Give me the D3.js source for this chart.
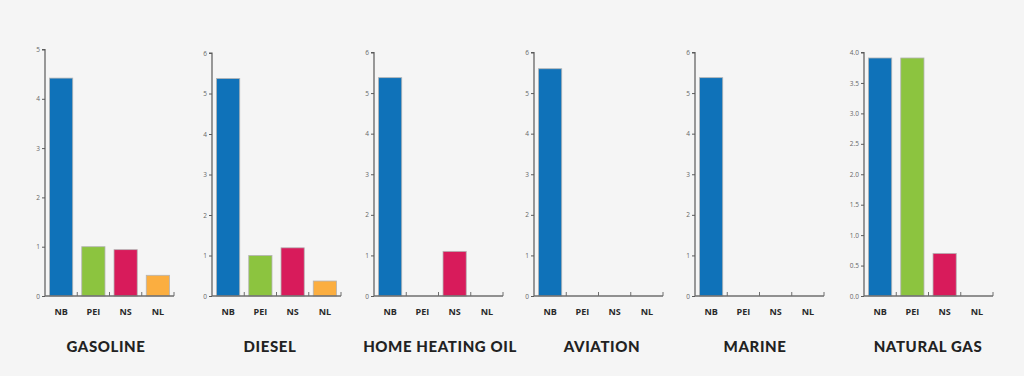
<!DOCTYPE html>
<html>
<head>
<meta charset="utf-8">
<script src="https://cdn.jsdelivr.net/npm/d3@7"></script>
<style>
  html, body { margin: 0; padding: 0; background: #f5f5f5; }
  svg { display: block; }
</style>
</head>
<body>
<svg id="chart" width="1024" height="376"></svg>
<script>
// ---- data ----
const categories = ["NB", "PEI", "NS", "NL"];
const panelTitles = ["GASOLINE", "DIESEL", "HOME HEATING OIL", "AVIATION", "MARINE", "NATURAL GAS"];
const gasoline    = [4.42, 1.00, 0.94, 0.42];
const diesel      = [5.37, 1.00, 1.19, 0.37];
const homeHeating = [5.38, 0, 1.10, 0];
const aviation    = [5.60, 0, 0, 0];
const marine      = [5.38, 0, 0, 0];
const naturalGas  = [3.91, 3.91, 0.70, 0];
const yMaxima     = [5, 6, 6, 6, 6, 4];
const tickValuesInt = [0, 1, 2, 3, 4, 5, 6];
const tickValuesGas = [0, 0.5, 1.0, 1.5, 2.0, 2.5, 3.0, 3.5, 4.0];

const seriesList = [gasoline, diesel, homeHeating, aviation, marine, naturalGas];
const colors = ["#0f72b9", "#8cc43f", "#d81b5b", "#fbae40"];

// ---- layout ----
const axisX = [45, 212, 374, 534, 695, 864];
const titleCenters = [106, 270, 440, 602, 755, 928];
const axisTops = [49.5, 53, 52.5, 52.5, 52.5, 52.5];
const axisLen = 129;
const yBottom = 296;

const svg = d3.select("#chart");
svg.append("rect").attr("width", 1024).attr("height", 376).attr("fill", "#f5f5f5");

seriesList.forEach((vals, p) => {
  const x0 = axisX[p];
  const yTop = axisTops[p];
  const g = svg.append("g");
  const x = d3.scaleBand().domain(categories).range([x0, x0 + axisLen])
    .paddingInner(0.28).paddingOuter(0.14);
  const y = d3.scaleLinear().domain([0, yMaxima[p]]).range([yBottom, yTop]);

  // bars
  const data = categories.map((c, i) => ({ c, v: vals[i], i })).filter(d => d.v > 0);
  g.selectAll("rect.bar").data(data).enter().append("rect")
    .attr("class", "bar")
    .attr("x", d => x(d.c))
    .attr("y", d => y(d.v))
    .attr("width", x.bandwidth())
    .attr("height", d => yBottom - y(d.v))
    .attr("fill", d => colors[d.i])
    .attr("stroke", "#b4b4b4")
    .attr("stroke-width", 0.8);

  // y axis
  const tv = p === 5 ? tickValuesGas : tickValuesInt.filter(t => t <= yMaxima[p]);
  const yAxis = d3.axisLeft(y).tickValues(tv).tickSize(3)
    .tickFormat(p === 5 ? d3.format(".1f") : d3.format("d"));
  const ya = g.append("g").attr("transform", `translate(${x0},0)`).call(yAxis);
  ya.select(".domain").attr("d", `M-3,${yTop}H0V${yBottom}`).attr("stroke", "#5a5a5a").attr("stroke-width", 1.2);
  ya.selectAll(".tick line").attr("stroke", "#5a5a5a");
  ya.selectAll(".tick text").attr("x", -5).attr("fill", "#666")
    .style("font-family", "'Open Sans', sans-serif").style("font-size", "6.5px");

  // x axis baseline with upward boundary ticks
  g.append("line").attr("x1", x0).attr("x2", x0 + axisLen)
    .attr("y1", yBottom).attr("y2", yBottom)
    .attr("stroke", "#6e6e6e").attr("stroke-width", 1.4);
  const step = x.step();
  categories.forEach((c) => {
    const bx = x(c) + x.bandwidth() + (step - x.bandwidth()) / 2;
    g.append("line").attr("x1", bx).attr("x2", bx)
      .attr("y1", yBottom).attr("y2", yBottom - 4)
      .attr("stroke", "#6e6e6e").attr("stroke-width", 1);
  });

  // category labels
  g.selectAll("text.cat").data(categories).enter().append("text")
    .attr("class", "cat")
    .attr("x", d => x(d) + x.bandwidth() / 2)
    .attr("y", 315)
    .attr("text-anchor", "middle")
    .attr("fill", "#2a2a2a")
    .style("font-family", "'Open Sans', sans-serif")
    .style("font-weight", "700")
    .style("font-size", "9px")
    .text(d => d);

  // title
  g.append("text")
    .attr("x", titleCenters[p])
    .attr("y", 352)
    .attr("text-anchor", "middle")
    .attr("fill", "#222")
    .style("font-family", "Lato, sans-serif")
    .style("font-weight", "900")
    .style("font-size", "15px")
    .style("letter-spacing", "0.6px")
    .text(panelTitles[p]);
});
</script>
</body>
</html>
